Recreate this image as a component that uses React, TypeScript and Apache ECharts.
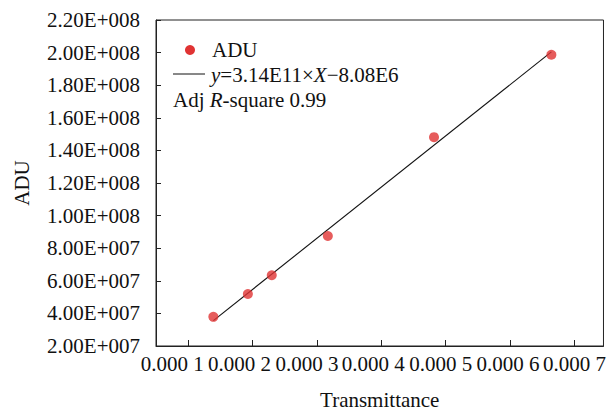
import React, { useEffect, useRef } from "react";
import * as echarts from "echarts";

const transmittance = [0.0001391, 0.0001927, 0.0002298, 0.0003169, 0.0004818, 0.0006641];
const adu = [3.79e7, 5.19e7, 6.34e7, 8.75e7, 1.481e8, 1.987e8];
const xTickValues = [0.0001, 0.0002, 0.0003, 0.0004, 0.0005, 0.0006, 0.0007];
const xTickLabels = ["0.000 1", "0.000 2", "0.000 3", "0.000 4", "0.000 5", "0.000 6", "0.000 7"];
const fitSlope = 3.14e11;
const fitIntercept = -8.08e6;
const seriesName = "ADU";

// horizontal nudge (px) of each x tick label relative to its tick, as in the reference
const xLabelShift = [-16, -13, -10, -8, -5, -2, 0];

const FONT = "'Liberation Serif', 'Times New Roman', serif";

function fmtY(v: number): string {
  const s = v.toExponential(2);
  const [m, e] = s.split("e");
  const sign = e[0] === "-" ? "-" : "+";
  const digits = e.replace(/[+-]/, "").padStart(3, "0");
  return `${m}E${sign}${digits}`;
}

export default function App() {
  const ref = useRef<HTMLDivElement>(null);
  useEffect(() => {
    if (!ref.current) return;
    const chart = echarts.init(ref.current, undefined, { renderer: "svg" });
    const xmin = Math.min(...transmittance);
    const xmax = Math.max(...transmittance);
    const fitLine = [
      [xmin, fitSlope * xmin + fitIntercept],
      [xmax, fitSlope * xmax + fitIntercept],
    ];
    const axisColor = "#222";
    const rich: Record<string, any> = {};
    xLabelShift.forEach((d, i) => {
      rich["l" + i] = {
        fontFamily: FONT,
        fontSize: 21,
        color: "#111",
        padding: d < 0 ? [0, -2 * d, 0, 0] : [0, 0, 0, 2 * d],
      };
    });
    chart.setOption({
      animation: false,
      textStyle: { fontFamily: FONT },
      grid: {
        left: 156,
        right: 3,
        top: 20,
        bottom: 63,
        show: true,
        borderColor: axisColor,
        borderWidth: 1,
        backgroundColor: "transparent",
      },
      xAxis: {
        type: "value",
        min: 0.00005,
        max: 0.000745,
        name: "Transmittance",
        nameLocation: "middle",
        nameGap: 43,
        nameTextStyle: { fontFamily: FONT, fontSize: 21, color: "#111" },
        axisLine: { show: true, lineStyle: { color: axisColor, width: 1 } },
        axisTick: {
          show: true,
          inside: true,
          length: 6,
          customValues: xTickValues,
          lineStyle: { color: axisColor },
        },
        axisLabel: {
          customValues: xTickValues,
          fontFamily: FONT,
          fontSize: 21,
          color: "#111",
          margin: 7,
          hideOverlap: false,
          rich,
          formatter: (v: number) => {
            let best = 0;
            for (let i = 1; i < xTickValues.length; i++) {
              if (Math.abs(xTickValues[i] - v) < Math.abs(xTickValues[best] - v)) best = i;
            }
            return `{l${best}|${xTickLabels[best]}}`;
          },
        },
        splitLine: { show: false },
      },
      yAxis: {
        type: "value",
        min: 2e7,
        max: 2.2e8,
        interval: 2e7,
        name: "ADU",
        nameLocation: "middle",
        nameGap: 124,
        nameTextStyle: { fontFamily: FONT, fontSize: 21, color: "#111" },
        axisLine: { show: true, lineStyle: { color: axisColor, width: 1 } },
        axisTick: { show: true, inside: true, length: 5, lineStyle: { color: axisColor } },
        axisLabel: {
          fontFamily: FONT,
          fontSize: 21,
          color: "#111",
          margin: 16,
          formatter: (v: number) => fmtY(v),
        },
        splitLine: { show: false },
      },
      series: [
        {
          name: "fit",
          type: "line",
          data: fitLine,
          showSymbol: false,
          symbol: "none",
          lineStyle: { color: "#111", width: 1.1 },
          z: 2,
        },
        {
          name: seriesName,
          type: "scatter",
          data: transmittance.map((x, i) => [x, adu[i]]),
          symbol: "circle",
          symbolSize: 10,
          itemStyle: { color: "#e03333" },
          z: 3,
        },
      ],
      graphic: [
        { type: "circle", shape: { cx: 190, cy: 50, r: 5 }, style: { fill: "#e03333" } },
        {
          type: "text",
          x: 212,
          y: 50,
          style: { text: seriesName, font: `21px ${FONT}`, fill: "#111", verticalAlign: "middle" },
        },
        { type: "line", shape: { x1: 173, y1: 74, x2: 205, y2: 74 }, style: { stroke: "#111", lineWidth: 1 } },
        {
          type: "text",
          x: 211,
          y: 75,
          style: {
            text: "{i|y}=3.14E11×{i|X}−8.08E6",
            font: `21px ${FONT}`,
            fill: "#111",
            verticalAlign: "middle",
            rich: {
              i: { fontStyle: "italic", fontFamily: FONT, fontSize: 21, fill: "#111" },
            },
          },
        },
        {
          type: "text",
          x: 173,
          y: 100,
          style: {
            text: "Adj {i|R}-square 0.99",
            font: `21px ${FONT}`,
            fill: "#111",
            verticalAlign: "middle",
            rich: {
              i: { fontStyle: "italic", fontFamily: FONT, fontSize: 21, fill: "#111" },
            },
          },
        },
      ],
    });
    return () => chart.dispose();
  }, []);
  return <div ref={ref} style={{ width: 609, height: 415, position: "absolute", left: 0, top: 0 }} />;
}
